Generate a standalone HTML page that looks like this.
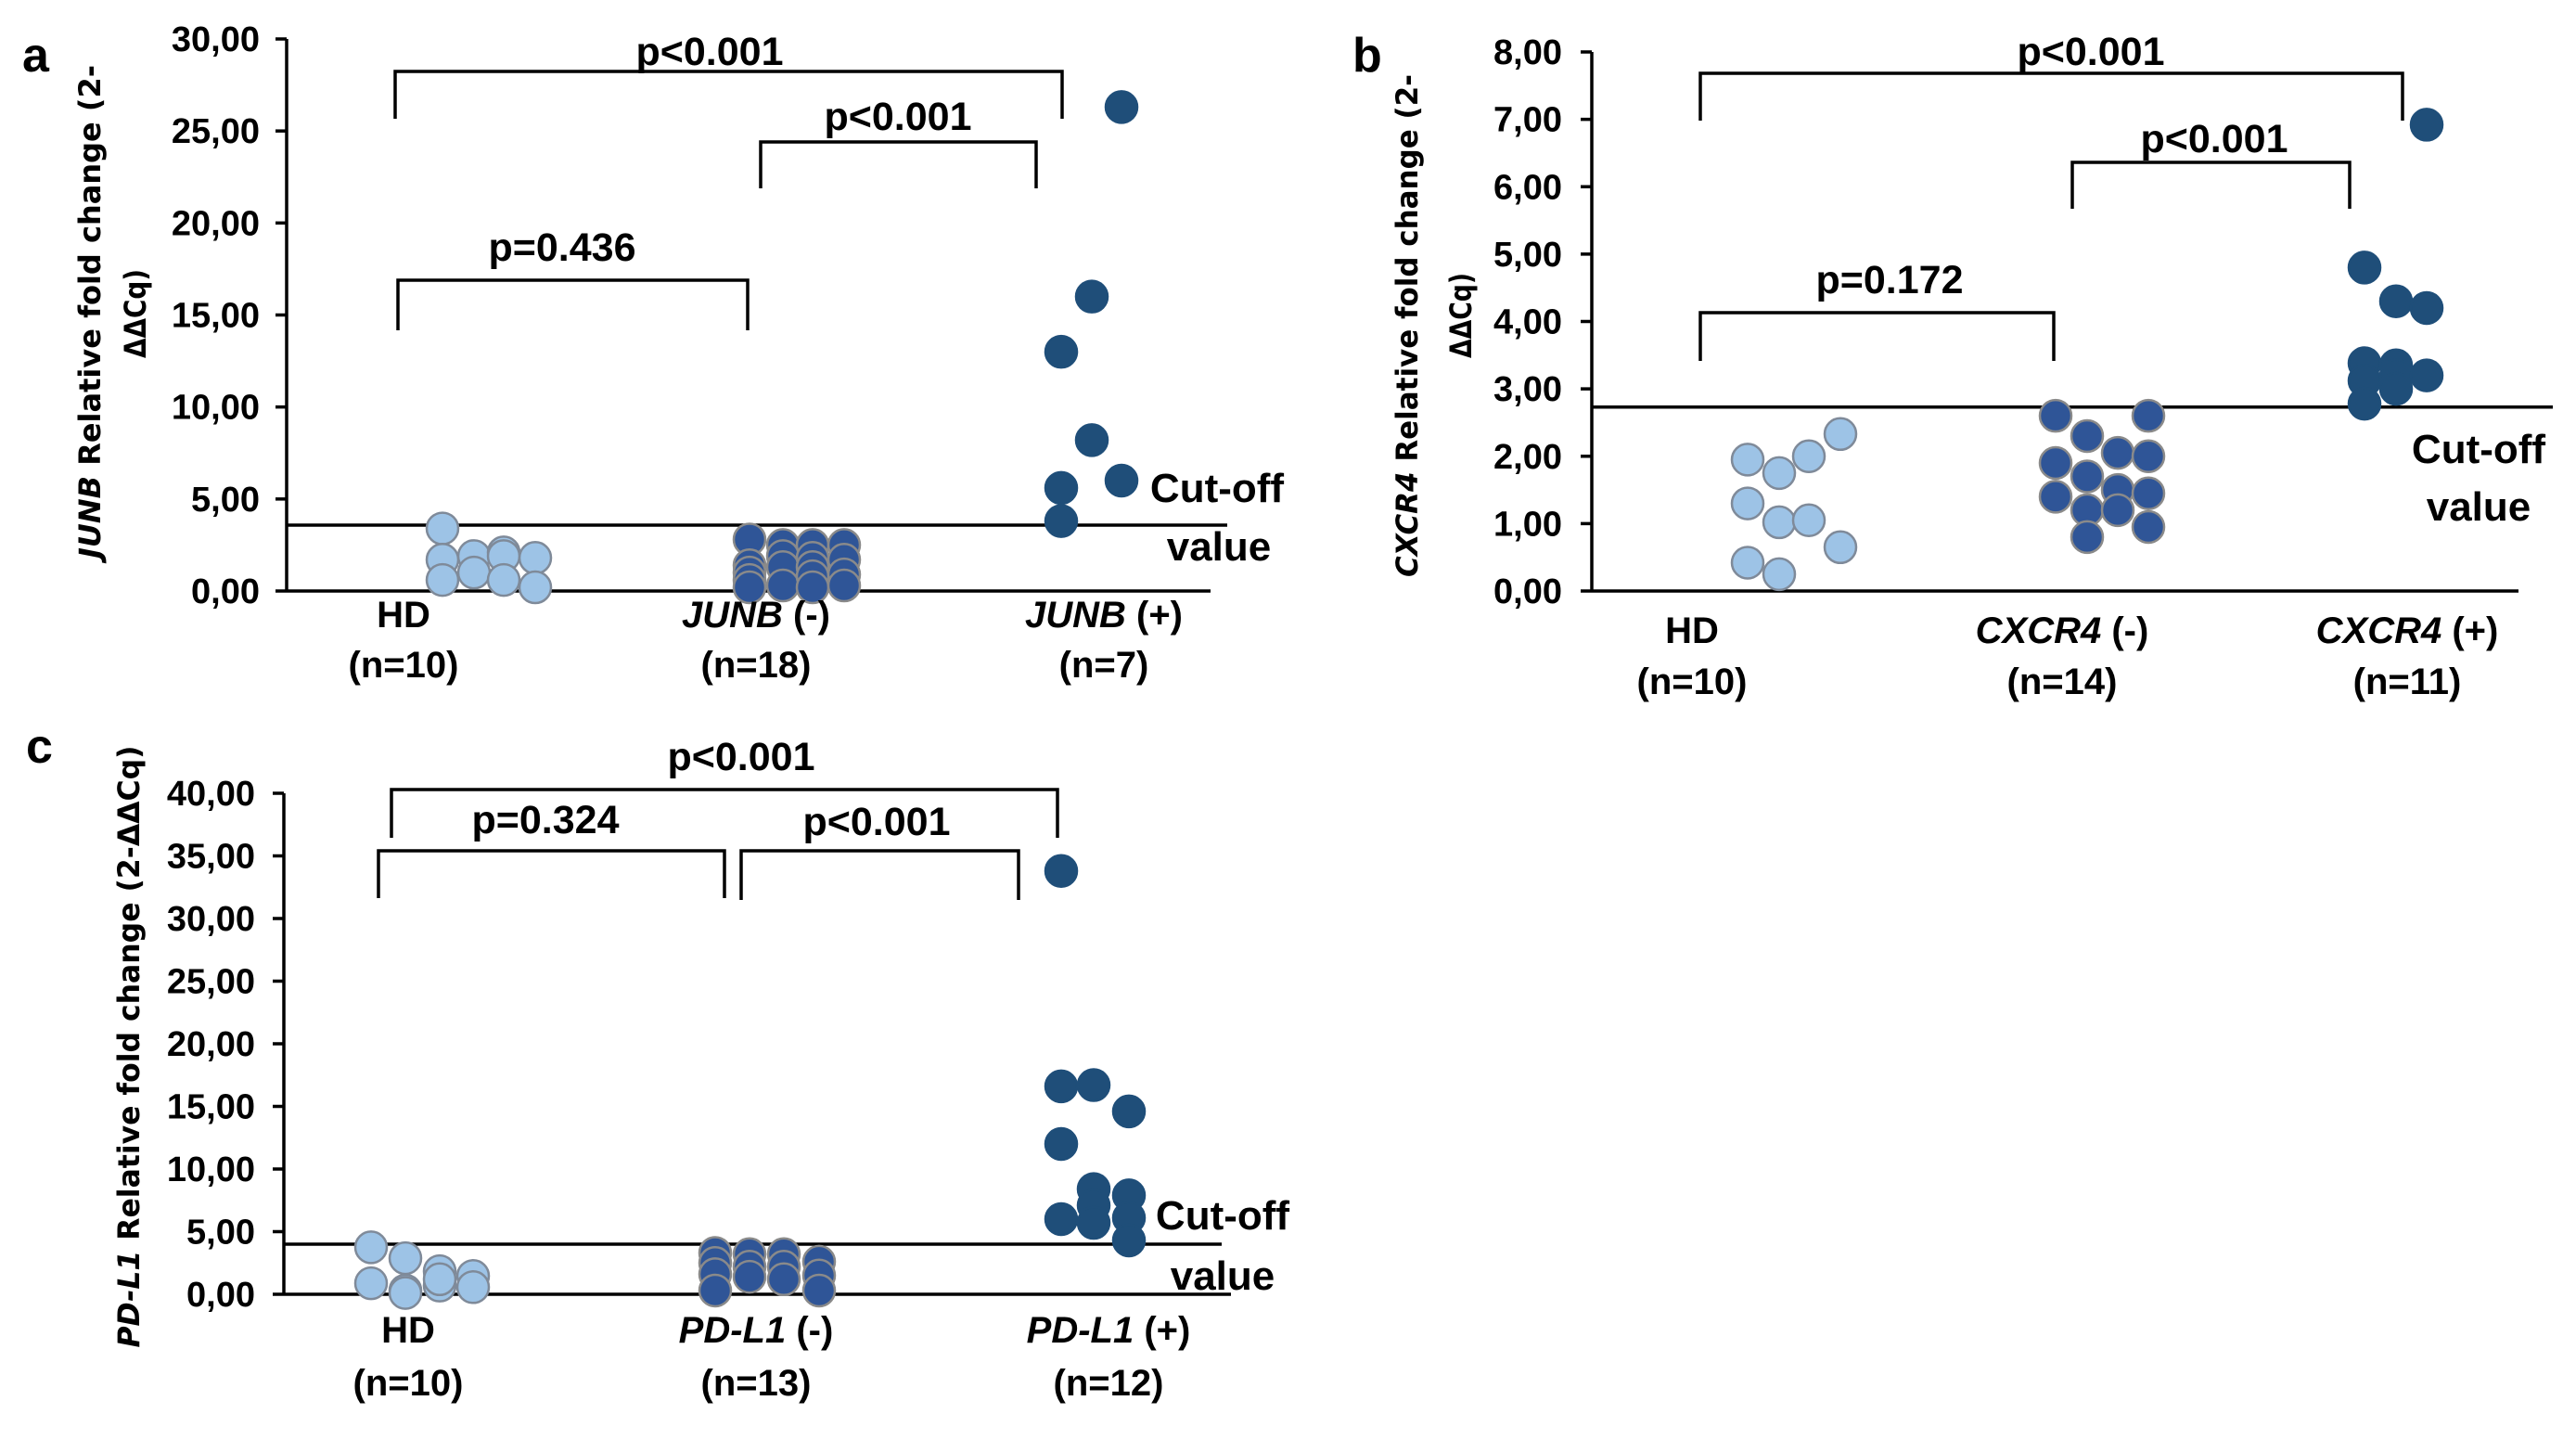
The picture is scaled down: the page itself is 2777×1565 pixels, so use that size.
<!DOCTYPE html>
<html><head><meta charset="utf-8"><style>
html,body{margin:0;padding:0;background:#fff}
svg{display:block}
text{font-family:"Liberation Sans",sans-serif;font-weight:bold;fill:#000}
</style></head><body>
<svg id="fig" width="2777" height="1565" viewBox="0 0 2777 1565" xmlns="http://www.w3.org/2000/svg"></svg>
<script>
// ---------- DATA ----------
// Panel a (JUNB)
const aTicks=["0,00","5,00","10,00","15,00","20,00","25,00","30,00"];
const aTickVals=[0,5,10,15,20,25,30];
const aHD=[[3.4,1.7,0.6],[1.9,1.0],[2.1,1.9,0.6],[1.8,0.2]];
const aNeg=[[2.8,1.4,1.0,0.6,0.2],[2.5,1.9,1.3,0.3],[2.5,1.8,1.3,0.8,0.2],[2.5,1.7,0.9,0.3]];
const aPos=[[13.0,5.6,3.8],[16.0,8.2],[26.3,6.0]];
const aCut=3.58;
// Panel b (CXCR4)
const bTicks=["0,00","1,00","2,00","3,00","4,00","5,00","6,00","7,00","8,00"];
const bTickVals=[0,1,2,3,4,5,6,7,8];
const bHD=[[1.95,1.3,0.42],[1.75,1.02,0.25],[2.0,1.05],[2.33,0.65]];
const bNeg=[[2.6,1.9,1.4],[2.3,1.7,1.2,0.8],[2.05,1.5,1.2],[2.6,2.0,1.45,0.95]];
const bPos=[[4.8,3.38,3.12,2.78],[4.3,3.35,3.2,3.0],[6.92,4.2,3.2]];
const bCut=2.73;
// Panel c (PD-L1)
const cTicks=["0,00","5,00","10,00","15,00","20,00","25,00","30,00","35,00","40,00"];
const cTickVals=[0,5,10,15,20,25,30,35,40];
const cHD=[[3.75,0.88],[2.88,0.3,0.1],[1.84,0.69,1.2],[1.46,0.57]];
const cNeg=[[3.3,2.5,1.6,0.3],[3.2,2.2,1.4],[3.2,2.2,1.2],[2.6,1.5,0.3]];
const cPos=[[33.8,16.6,12.0,6.0],[16.7,8.4,7.1,5.7],[14.6,7.9,6.1,4.3]];
const cCut=4.0;

// ---------- DRAW ----------
const NS="http://www.w3.org/2000/svg";
const svg=document.getElementById('fig');
function mk(tag,attrs,parent){const e=document.createElementNS(NS,tag);for(const k in attrs)e.setAttribute(k,attrs[k]);(parent||svg).appendChild(e);return e;}
function txt(s,x,y,size,anchor,parent){const t=mk('text',{x:x,y:y,'font-size':size,'text-anchor':anchor||'middle'},parent);t.textContent=s;return t;}

function panel(P){
  const g=mk('g',{});
  
  
  const y=v=>P.y0-(v-0)*(P.y0-P.yTop)/P.max;
  const ya=mk('line',{x1:P.ax,y1:P.yTop,x2:P.ax,y2:P.y0,stroke:'#000','stroke-width':3.5},g);
  
  const xa=mk('line',{x1:P.ax,y1:P.y0,x2:P.xEnd,y2:P.y0,stroke:'#000','stroke-width':3.5},g);
  
  P.tickVals.forEach((v,i)=>{
    mk('line',{x1:P.ax-12,y1:y(v),x2:P.ax,y2:y(v),stroke:'#000','stroke-width':3.5},g);
    const t=txt(P.ticks[i],P.tickR,y(v)+13,38,'end',g);
    
  });
  const cl=mk('line',{x1:P.ax,y1:y(P.cut),x2:P.cutEnd,y2:y(P.cut),stroke:'#000','stroke-width':3.5},g);
  
  const groups=[[P.hd,P.hdX,'#9dc3e6','#7f8a99','hd'],[P.neg,P.negX,'#2f5597','#8a8a8a','negative'],[P.pos,P.posX,'#1f4e79','#1f4e79','positive']];
  groups.forEach(([data,xs,fill,stroke,nm])=>{
    data.forEach((col,ci)=>col.forEach(v=>{
      const c=mk('circle',{cx:xs[ci],cy:y(v),r:17,fill:fill,stroke:stroke,'stroke-width':2.5},g);
      
      
    }));
  });
  P.cats.forEach((c,i)=>{
    const t=mk('text',{x:P.catX[i],y:P.catY1,'font-size':40,'text-anchor':'middle'},g);
    
    if(c[0]){const it=mk('tspan',{'font-style':'italic'},t);it.textContent=c[0];}
    const r=mk('tspan',{},t);r.textContent=c[1];
    const n=txt(c[2],P.catX[i],P.catY2,40,'middle',g);
    
  });
  P.brackets.forEach(b=>{
    const p=mk('polyline',{points:`${b[0]},${b[3]} ${b[0]},${b[2]} ${b[1]},${b[2]} ${b[1]},${b[4]}`,fill:'none',stroke:'#000','stroke-width':3.5},g);
    
    const t=txt(b[5],b[6],b[7],43,'middle',g);
    
  });
  const c1=txt('Cut-off',P.cutTX,P.cutTY1,44,'middle',g);
  
  const c2=txt('value',P.cutTX2,P.cutTY2,44,'middle',g);
  
  const L=txt(P.id,P.letX,P.letY,52,'start',g);
  
  P.titles.forEach(tl=>{
    const t=mk('text',{x:0,y:0,'font-size':32,'text-anchor':'middle',transform:`translate(${tl.x},${tl.y}) rotate(-90)`,textLength:tl.len,lengthAdjust:'spacingAndGlyphs',style:'font-family:"DejaVu Sans",sans-serif'},g);
    
    if(tl.it){const it=mk('tspan',{'font-style':'italic'},t);it.textContent=tl.it;}
    const r=mk('tspan',{},t);r.textContent=tl.s;
  });
}

panel({id:'a',ax:309,yTop:42,y0:637,max:30,xEnd:1305,cutEnd:1323,tickR:280,ticks:aTicks,tickVals:aTickVals,cut:aCut,
  hd:aHD,neg:aNeg,pos:aPos,hdX:[477,511,543,577],negX:[808,844,876,910],posX:[1144,1177,1209],
  cats:[["","HD","(n=10)"],["JUNB"," (-)","(n=18)"],["JUNB"," (+)","(n=7)"]],catX:[435,815,1190],catY1:676,catY2:730,
  brackets:[[426,1145,77,128,128,'p<0.001',765,70],[820,1117,153,203,203,'p<0.001',968,140],[429,806,302,356,356,'p=0.436',606,281]],
  cutTX:1312,cutTY1:541,cutTX2:1314,cutTY2:604,letX:24,letY:77,
  titles:[{x:108,y:336,len:532,it:'JUNB',s:' Relative fold change (2-'},{x:157,y:338,len:96,it:'',s:'ΔΔCq)'}]});

panel({id:'b',ax:1716,yTop:56,y0:637,max:8,xEnd:2715,cutEnd:2752,tickR:1684,ticks:bTicks,tickVals:bTickVals,cut:bCut,
  hd:bHD,neg:bNeg,pos:bPos,hdX:[1884,1918,1950,1984],negX:[2216,2250,2283,2316],posX:[2549,2583,2616],
  cats:[["","HD","(n=10)"],["CXCR4"," (-)","(n=14)"],["CXCR4"," (+)","(n=11)"]],catX:[1824,2223,2595],catY1:693,catY2:748,
  brackets:[[1833,2590,79,130,130,'p<0.001',2254,70],[2234,2533,175,225,225,'p<0.001',2387,164],[1833,2214,337,389,389,'p=0.172',2037,316]],
  cutTX:2672,cutTY1:499,cutTX2:2672,cutTY2:561,letX:1458,letY:77,
  titles:[{x:1528,y:351,len:542,it:'CXCR4',s:' Relative fold change (2-'},{x:1586,y:340,len:92,it:'',s:'ΔΔCq)'}]});

panel({id:'c',ax:306,yTop:855,y0:1395,max:40,xEnd:1327,cutEnd:1317,tickR:275,ticks:cTicks,tickVals:cTickVals,cut:cCut,
  hd:cHD,neg:cNeg,pos:cPos,hdX:[400,437,474,510],negX:[771,808,845,883],posX:[1144,1179,1217],
  cats:[["","HD","(n=10)"],["PD-L1"," (-)","(n=13)"],["PD-L1"," (+)","(n=12)"]],catX:[440,815,1195],catY1:1447,catY2:1504,
  brackets:[[422,1140,851,903,903,'p<0.001',799,830],[408,781,917,968,968,'p=0.324',588,898],[799,1098,917,970,970,'p<0.001',945,900]],
  cutTX:1318,cutTY1:1325,cutTX2:1318,cutTY2:1390,letX:28,letY:822,
  titles:[{x:150,y:1128,len:649,it:'PD-L1',s:' Relative fold change (2-ΔΔCq)'}]});
</script>
</body></html>
